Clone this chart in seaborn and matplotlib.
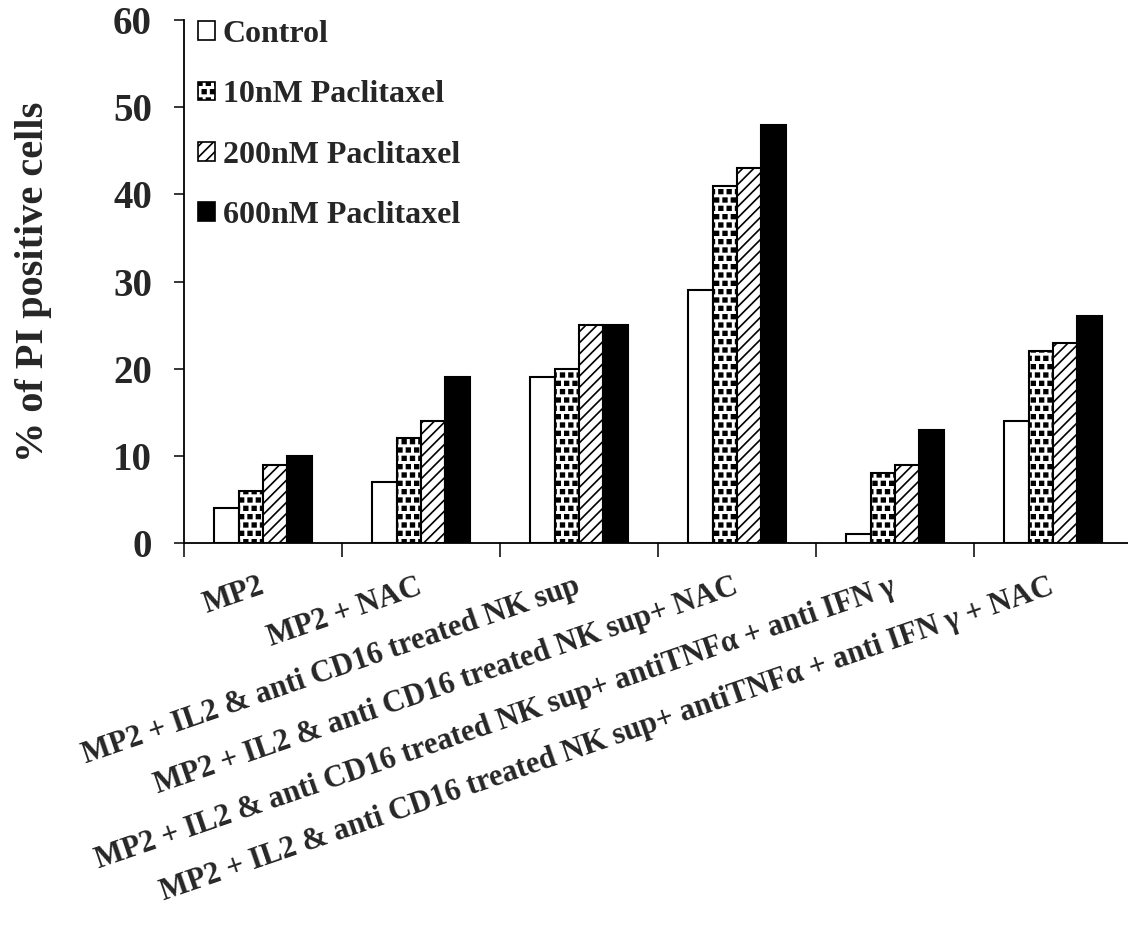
import numpy as np
import pandas as pd
import matplotlib
matplotlib.use('Agg')
import matplotlib.pyplot as plt
import matplotlib.hatch as mhatch
from matplotlib.patches import Patch
import seaborn as sns

# data
groups = ['MP2', 'MP2 + NAC', 'MP2 + IL2 & anti CD16 treated NK sup',
          'MP2 + IL2 & anti CD16 treated NK sup+ NAC',
          'MP2 + IL2 & anti CD16 treated NK sup+ antiTNFα + anti IFN γ',
          'MP2 + IL2 & anti CD16 treated NK sup+ antiTNFα + anti IFN γ + NAC']
treatments = ['Control', '10nM Paclitaxel', '200nM Paclitaxel', '600nM Paclitaxel']
control = [4, 7, 19, 29, 1, 14]
tax_10 = [6, 12, 20, 41, 8, 22]
tax_200 = [9, 14, 25, 43, 9, 23]
tax_600 = [10, 19, 25, 48, 13, 26]

fills = ['white', 'white', 'white', 'black']
hatches = ['', 'OO', '///', '']


# small filled squares in a staggered grid (replaces the big-circle hatch 'O')
class SquareDots(mhatch.Shapes):
    size = 0.22
    filled = True

    def __init__(self, hatch, density):
        self.num_rows = hatch.count('O') * density
        self.shape_vertices = np.array([[-1, -1], [1, -1], [1, 1], [-1, 1], [-1, -1]], float)
        self.shape_codes = np.array([1, 2, 2, 2, 79], dtype=np.uint8)
        super().__init__(hatch, density)


mhatch._hatch_types = [SquareDots if t is mhatch.LargeCircles else t for t in mhatch._hatch_types]

df = pd.DataFrame({'group': groups * 4,
                   'treatment': np.repeat(treatments, len(groups)),
                   'value': control + tax_10 + tax_200 + tax_600})

sns.set_style('white')
plt.rcParams['font.family'] = ['Liberation Serif', 'DejaVu Serif']
plt.rcParams['font.weight'] = 'bold'
plt.rcParams['hatch.linewidth'] = 1.2

fig = plt.figure(figsize=(11.28, 9.36), dpi=100)
ax = fig.add_axes([184 / 1128, 1 - 543 / 936, 948 / 1128, 523 / 936])

sns.barplot(data=df, x='group', y='value', hue='treatment', order=groups,
            hue_order=treatments, palette=fills, width=0.62, gap=0,
            edgecolor='black', linewidth=1.5, legend=False, ax=ax)

for cont, h in zip(ax.containers, hatches):
    for bar in cont:
        bar.set_hatch(h)
        bar.set_edgecolor('black')

ax.set_xlim(-0.5, 5.5)
ax.set_ylim(0, 60)
ax.set_yticks(range(0, 61, 10))
ax.set_xlabel('')
ax.set_ylabel('% of PI positive cells', fontsize=29, fontweight='bold', labelpad=44)

for s in ['top', 'right']:
    ax.spines[s].set_visible(False)
for s in ['left', 'bottom']:
    ax.spines[s].set_linewidth(1.3)
    ax.spines[s].set_color('black')

ax.tick_params(axis='y', which='major', direction='out', length=7, width=1.3,
               labelsize=28, pad=16, left=True)
ax.set_xticks(np.arange(-0.5, 6.0, 1), minor=True)
ax.tick_params(axis='x', which='minor', direction='out', length=10, width=1.3, bottom=True)
ax.tick_params(axis='x', which='major', length=0, pad=31)
ax.set_xticks(range(len(groups)))
ax.set_xticklabels(groups, rotation=19, ha='right', va='center',
                   rotation_mode='anchor', fontsize=22, fontweight='bold')
for lbl in ax.get_yticklabels():
    lbl.set_fontweight('bold')

handles = [Patch(facecolor=f, edgecolor='black', hatch=h, linewidth=1.2)
           for f, h in zip(fills, hatches)]
ax.legend(handles, treatments, loc='upper left', bbox_to_anchor=(0.0148, 1.0),
          frameon=False, handlelength=0.53, handleheight=0.53,
          handletextpad=0.25, labelspacing=0.98, borderaxespad=0, borderpad=0,
          prop={'weight': 'bold', 'size': 23})

fig.savefig('out.png', dpi=100)
